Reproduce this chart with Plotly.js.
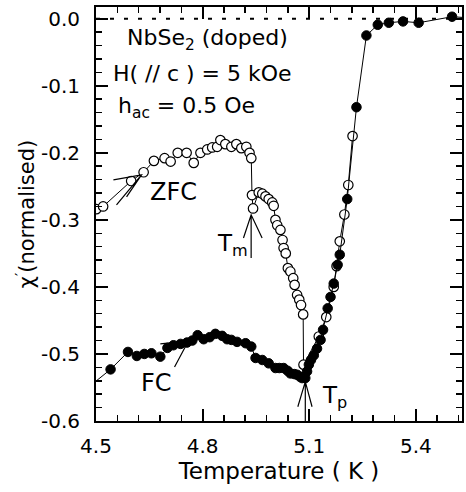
<!DOCTYPE html>
<html>
<head>
<meta charset="utf-8">
<script src="https://cdn.plot.ly/plotly-3.0.1.min.js"></script>
<style>html,body{margin:0;padding:0;background:#fff;}</style>
</head>
<body>
<div id="chart" style="width:466px;height:492px;"></div>
<script>
// ZFC (open circles)
const zfcT = [4.501, 4.520, 4.599, 4.634, 4.663, 4.693, 4.710, 4.730, 4.755, 4.775, 4.794, 4.813, 4.827, 4.841, 4.850, 4.864, 4.881, 4.895, 4.909, 4.923, 4.932, 4.937, 4.939, 4.942, 4.958, 4.968, 4.977, 4.986, 4.996, 5.000, 5.005, 5.010, 5.019, 5.025, 5.028, 5.034, 5.040, 5.047, 5.055, 5.059, 5.066, 5.072, 5.077, 5.083, 5.084, 5.127, 5.148, 5.169, 5.177, 5.186, 5.199, 5.210, 5.222];
const zfcChi = [-0.284, -0.280, -0.242, -0.229, -0.212, -0.208, -0.213, -0.200, -0.200, -0.215, -0.200, -0.195, -0.192, -0.191, -0.181, -0.187, -0.191, -0.187, -0.193, -0.191, -0.200, -0.208, -0.263, -0.283, -0.259, -0.261, -0.265, -0.269, -0.274, -0.279, -0.300, -0.308, -0.315, -0.330, -0.342, -0.350, -0.372, -0.377, -0.387, -0.397, -0.412, -0.419, -0.427, -0.441, -0.516, -0.474, -0.445, -0.400, -0.369, -0.332, -0.292, -0.248, -0.175];
// FC (filled circles)
const fcT = [4.480, 4.541, 4.590, 4.615, 4.636, 4.656, 4.681, 4.701, 4.718, 4.738, 4.756, 4.771, 4.786, 4.803, 4.820, 4.836, 4.855, 4.869, 4.881, 4.897, 4.921, 4.937, 4.949, 4.968, 4.986, 5.005, 5.016, 5.028, 5.039, 5.047, 5.058, 5.066, 5.074, 5.080, 5.089, 5.094, 5.099, 5.105, 5.113, 5.122, 5.132, 5.139, 5.152, 5.160, 5.169, 5.180, 5.186, 5.207, 5.233, 5.261, 5.293, 5.324, 5.364, 5.408, 5.502, 5.560];
const fcChi = [-0.549, -0.523, -0.497, -0.503, -0.500, -0.499, -0.504, -0.491, -0.487, -0.485, -0.483, -0.480, -0.472, -0.478, -0.475, -0.470, -0.473, -0.478, -0.479, -0.482, -0.484, -0.489, -0.506, -0.509, -0.514, -0.521, -0.521, -0.521, -0.525, -0.529, -0.530, -0.531, -0.534, -0.536, -0.536, -0.526, -0.516, -0.509, -0.502, -0.492, -0.479, -0.464, -0.432, -0.415, -0.395, -0.367, -0.352, -0.269, -0.132, -0.025, -0.009, -0.006, -0.004, -0.006, 0.003, 0.001];
// ticks
const xTickVals = [4.5, 4.8, 5.1, 5.4];
const xTickText = ['4.5', '4.8', '5.1', '5.4'];
const yTickVals = [0, -0.1, -0.2, -0.3, -0.4, -0.5, -0.6];
const yTickText = ['0.0', '-0.1', '-0.2', '-0.3', '-0.4', '-0.5', '-0.6'];

// minor tick positions (every 0.06 K on x, every 0.02 on y)
const xMinor = [];
for (let i = 0; i <= 17; i++) xMinor.push(+(4.5 + i * 0.06).toFixed(3));
const yMinor = [];
for (let i = 0; i <= 30; i++) yMinor.push(+(-i * 0.02).toFixed(3));

const FONT = 'DejaVu Sans, sans-serif';

const traces = [
  {x: zfcT, y: zfcChi, mode: 'lines+markers', type: 'scatter', name: 'ZFC',
   line: {color: '#000', width: 1},
   marker: {symbol: 'circle', size: 9.5, color: '#fff', line: {color: '#000', width: 1.2}}},
  {x: fcT, y: fcChi, mode: 'lines+markers', type: 'scatter', name: 'FC',
   line: {color: '#000', width: 1},
   marker: {symbol: 'circle', size: 9.5, color: '#000', line: {color: '#000', width: 1}}}
];

const axisCommon = {
  showgrid: false, zeroline: false, showline: true, linecolor: '#000', linewidth: 2,
  ticks: 'inside', ticklen: 12, tickwidth: 2, tickcolor: '#000', mirror: 'allticks',
  tickmode: 'array', tickfont: {family: FONT, size: 20, color: '#000'}
};

const layout = {
  width: 466, height: 492,
  margin: {l: 96, r: 4, t: 7, b: 71},
  paper_bgcolor: '#fff', plot_bgcolor: '#fff',
  showlegend: false,
  font: {family: FONT, color: '#000'},
  xaxis: Object.assign({}, axisCommon, {
    range: [4.5, 5.53], tickvals: xTickVals, ticktext: xTickText,
    ticklabelstandoff: 6,
    minor: {tickmode: 'array', tickvals: xMinor, ticks: 'inside', ticklen: 6, tickwidth: 1.5, tickcolor: '#000', showgrid: false},
    title: {text: 'Temperature ( K )', font: {family: FONT, size: 23, color: '#000'}, standoff: 1}
  }),
  yaxis: Object.assign({}, axisCommon, {
    range: [-0.6, 0.0175], tickvals: yTickVals, ticktext: yTickText,
    ticklabelstandoff: 10,
    minor: {tickmode: 'array', tickvals: yMinor, ticks: 'inside', ticklen: 6, tickwidth: 1.5, tickcolor: '#000', showgrid: false},
    title: {text: 'χ<sup>′</sup>(normalised)', font: {family: FONT, size: 21, color: '#000'}}
  }),
  shapes: [
    {type: 'line', xref: 'x', yref: 'y', x0: 4.5, x1: 5.53, y0: 0, y1: 0,
     line: {color: '#000', width: 2, dash: '4px,10px'}},
    // T_m arrow
    {type: 'path', xref: 'x', yref: 'y', line: {color: '#000', width: 1.2},
     path: 'M 4.9366,-0.3567 L 4.9366,-0.2925 M 4.915,-0.327 L 4.9366,-0.2925 L 4.9675,-0.327'},
    // T_p arrow
    {type: 'path', xref: 'x', yref: 'y', line: {color: '#000', width: 1.2},
     path: 'M 5.089,-0.6 L 5.089,-0.5413 M 5.068,-0.5787 L 5.089,-0.5413 L 5.108,-0.5787'},
    // ZFC arrow
    {type: 'path', xref: 'x', yref: 'y', line: {color: '#000', width: 1.2},
     path: 'M 4.549,-0.2403 L 4.628,-0.2328 L 4.5577,-0.2776 M 4.586,-0.2657 L 4.628,-0.2328'},
    // FC arrow
    {type: 'path', xref: 'x', yref: 'y', line: {color: '#000', width: 1.2},
     path: 'M 4.681,-0.4851 L 4.760,-0.4806 L 4.721,-0.5194'}
  ],
  annotations: [
    {xref: 'x', yref: 'y', x: 4.583, y: -0.031, xanchor: 'left', yanchor: 'middle', showarrow: false,
     text: 'NbSe<sub>2</sub> (doped)', font: {family: FONT, size: 22, color: '#000'}},
    {xref: 'x', yref: 'y', x: 4.541, y: -0.081, xanchor: 'left', yanchor: 'middle', showarrow: false,
     text: 'H( // c ) = 5 kOe', font: {family: FONT, size: 22, color: '#000'}},
    {xref: 'x', yref: 'y', x: 4.555, y: -0.133, xanchor: 'left', yanchor: 'middle', showarrow: false,
     text: 'h<sub>ac</sub> = 0.5 Oe', font: {family: FONT, size: 22, color: '#000'}},
    {xref: 'x', yref: 'y', x: 4.718, y: -0.258, xanchor: 'center', yanchor: 'middle', showarrow: false,
     text: 'ZFC', font: {family: FONT, size: 24, color: '#000'}},
    {xref: 'x', yref: 'y', x: 4.670, y: -0.543, xanchor: 'center', yanchor: 'middle', showarrow: false,
     text: 'FC', font: {family: FONT, size: 24, color: '#000'}},
    {xref: 'x', yref: 'y', x: 4.836, y: -0.337, xanchor: 'left', yanchor: 'middle', showarrow: false,
     text: 'T<sub>m</sub>', font: {family: FONT, size: 23, color: '#000'}},
    {xref: 'x', yref: 'y', x: 5.131, y: -0.564, xanchor: 'left', yanchor: 'middle', showarrow: false,
     text: 'T<sub>p</sub>', font: {family: FONT, size: 23, color: '#000'}}
  ]
};

Plotly.newPlot('chart', traces, layout, {displayModeBar: false, staticPlot: true});
</script>
</body>
</html>
